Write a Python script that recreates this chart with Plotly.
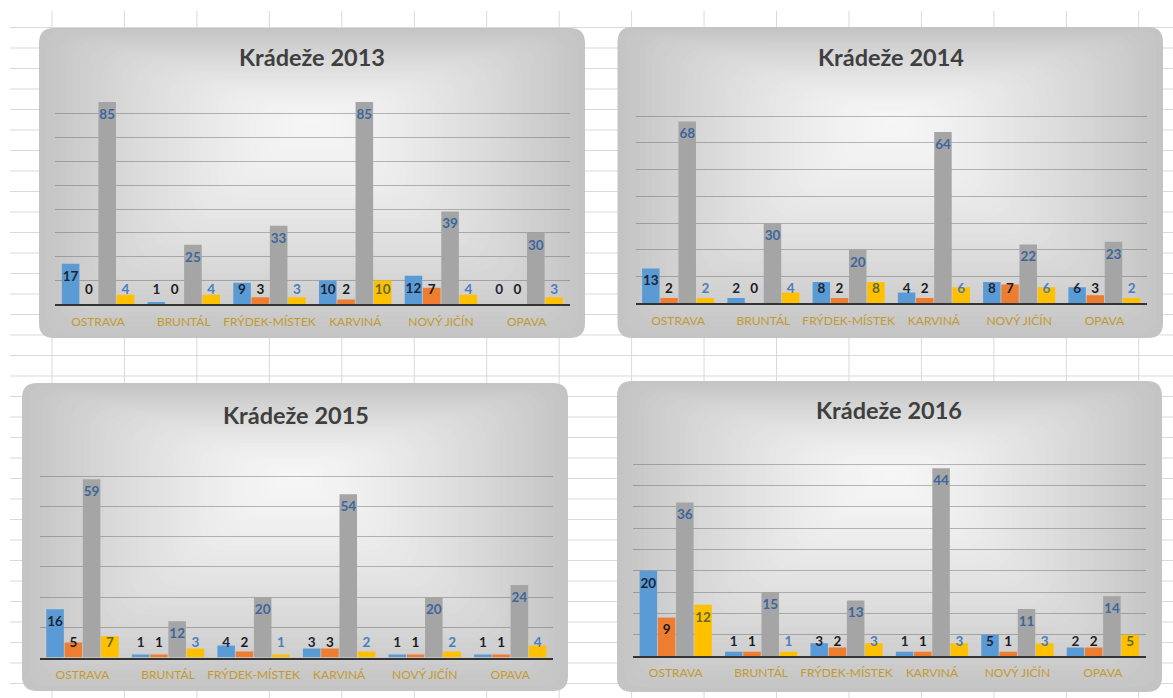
import plotly.graph_objects as go

W, H = 1173, 698

categories = ["OSTRAVA", "BRUNTÁL", "FRÝDEK-MÍSTEK", "KARVINÁ", "NOVÝ JIČÍN", "OPAVA"]
titles = ["Krádeže 2013", "Krádeže 2014", "Krádeže 2015", "Krádeže 2016"]

# series values per year (four series per district)
s1_2013 = [17, 1, 9, 10, 12, 0]
s2_2013 = [0, 0, 3, 2, 7, 0]
s3_2013 = [85, 25, 33, 85, 39, 30]
s4_2013 = [4, 4, 3, 10, 4, 3]

s1_2014 = [13, 2, 8, 4, 8, 6]
s2_2014 = [2, 0, 2, 2, 7, 3]
s3_2014 = [68, 30, 20, 64, 22, 23]
s4_2014 = [2, 4, 8, 6, 6, 2]

s1_2015 = [16, 1, 4, 3, 1, 1]
s2_2015 = [5, 1, 2, 3, 1, 1]
s3_2015 = [59, 12, 20, 54, 20, 24]
s4_2015 = [7, 3, 1, 2, 2, 4]

s1_2016 = [20, 1, 3, 1, 5, 2]
s2_2016 = [9, 1, 2, 1, 1, 2]
s3_2016 = [36, 15, 13, 44, 11, 14]
s4_2016 = [12, 1, 3, 3, 3, 5]

y_max = [90, 80, 70, 50]
y_step = [10, 10, 10, 5]

years = [
    [s1_2013, s2_2013, s3_2013, s4_2013],
    [s1_2014, s2_2014, s3_2014, s4_2014],
    [s1_2015, s2_2015, s3_2015, s4_2015],
    [s1_2016, s2_2016, s3_2016, s4_2016],
]

# ---- layout geometry (pixels) ----
plots = [  # left, right, top, bottom of plot area
    (55.2, 569.5, 90.0, 304.3),
    (635.5, 1147.0, 89.3, 303.3),
    (39.7, 553.0, 446.0, 657.5),
    (633.0, 1145.5, 442.7, 656.0),
]
panels = [  # rounded background rectangles
    (39, 28, 585, 338),
    (617.5, 27, 1163, 338),
    (22, 383, 568, 691),
    (617, 381, 1162, 692),
]
title_y = [56.7, 56.7, 415, 410]

BAR_COLORS = ["#5B9BD5", "#ED7D31", "#A5A5A5", "#FFC000"]
FONT = "Lato, 'Open Sans', sans-serif"


def px(x):
    return x / W


def py(y):
    return 1 - y / H


def rrect_path(L, T, R, B, r):
    def P(x, y):
        return f"{px(x):.5f},{py(y):.5f}"
    return (f"M{P(L + r, T)} L{P(R - r, T)} Q{P(R, T)} {P(R, T + r)} "
            f"L{P(R, B - r)} Q{P(R, B)} {P(R - r, B)} "
            f"L{P(L + r, B)} Q{P(L, B)} {P(L, B - r)} "
            f"L{P(L, T + r)} Q{P(L, T)} {P(L + r, T)} Z")


shapes = []
# spreadsheet grid behind the charts
GRID = "#D9D9D9"
k = 0
while True:
    xv = 52 + 72.45 * k
    if xv > W:
        break
    shapes.append(dict(type="line", xref="paper", yref="paper", layer="below",
                       x0=px(xv), x1=px(xv), y0=py(11), y1=0,
                       line=dict(color=GRID, width=1)))
    k += 1
k = 0
while True:
    yv = 27.5 + 20.5 * k
    if yv > H:
        break
    shapes.append(dict(type="line", xref="paper", yref="paper", layer="below",
                       x0=px(10), x1=1, y0=py(yv), y1=py(yv),
                       line=dict(color=GRID, width=1)))
    k += 1

# gradient panels made of nested rounded rectangles
N = 40
for (L, T, R, B) in panels:
    cx = L + 0.5 * (R - L)
    cy = T + 0.3 * (B - T)
    for i in range(N):
        f = 1 - i / N
        Lk = cx - (cx - L) * f
        Rk = cx + (R - cx) * f
        Tk = cy - (cy - T) * f
        Bk = cy + (B - cy) * f
        r = 15 * f + 0.35 * min(Rk - Lk, Bk - Tk) * (1 - f)
        g = int(round(246 - 50 * f ** 1.4))
        shapes.append(dict(type="path", xref="paper", yref="paper", layer="below",
                           path=rrect_path(Lk, Tk, Rk, Bk, r),
                           fillcolor=f"rgb({g},{g},{g})", line=dict(width=0)))

fig = go.Figure()

BW = 0.2135  # slot per bar, in category units
annotations = []
for p, series in enumerate(years):
    xa = "x" if p == 0 else f"x{p + 1}"
    ya = "y" if p == 0 else f"y{p + 1}"
    L, R, T, B = plots[p]
    ppu = (B - T) / y_max[p]
    d = 13.5 / ppu
    for j, vals in enumerate(series):
        xs = [i + (j - 1.5) * BW for i in range(len(categories))]
        fig.add_trace(go.Bar(x=xs, y=vals, width=0.205, xaxis=xa, yaxis=ya,
                             marker=dict(color=BAR_COLORS[j], line=dict(width=0)),
                             showlegend=False, hoverinfo="skip"))
        ly = [max(v - d, d) for v in vals]
        if j == 0:
            cols = ["#1C2533"] * len(vals)
        elif j == 1:
            cols = ["#1A1A1A"] * len(vals)
        elif j == 2:
            cols = ["#3C679C"] * len(vals)
        else:
            cols = ["#5E6A2E" if v * ppu >= 20 else "#4A7DBA" for v in vals]
        fig.add_trace(go.Scatter(x=xs, y=ly, mode="text", text=[str(v) for v in vals],
                                 textfont=dict(family=FONT, size=13.5, color=cols, weight="bold"),
                                 xaxis=xa, yaxis=ya, showlegend=False, hoverinfo="skip",
                                 cliponaxis=False))
    fig.layout[f"xaxis{'' if p == 0 else p + 1}"] = dict(
        domain=[px(L), px(R)], anchor=ya, range=[-0.5, 5.5],
        tickvals=list(range(len(categories))), ticktext=categories,
        tickfont=dict(family=FONT, size=12, color="#C29B30"),
        ticks="", ticklabelstandoff=5, showgrid=False, zeroline=False,
        showline=True, linecolor="#333333", linewidth=2, fixedrange=True)
    fig.layout[f"yaxis{'' if p == 0 else p + 1}"] = dict(
        domain=[py(B), py(T)], anchor=xa, range=[0, y_max[p]], dtick=y_step[p],
        showticklabels=False, showgrid=True, gridcolor="rgba(95,95,95,0.42)",
        gridwidth=1, zeroline=False, showline=False, fixedrange=True)
    annotations.append(dict(text=titles[p], xref="paper", yref="paper",
                            x=px((L + R) / 2), y=py(title_y[p]),
                            xanchor="center", yanchor="middle", showarrow=False,
                            font=dict(family=FONT, size=23.5, color="#3F3F3F", weight="bold")))

fig.update_layout(width=W, height=H, margin=dict(l=0, r=0, t=0, b=0),
                  paper_bgcolor="white", plot_bgcolor="rgba(0,0,0,0)",
                  barmode="overlay", showlegend=False,
                  shapes=shapes, annotations=annotations)

fig.write_html("out.html")
